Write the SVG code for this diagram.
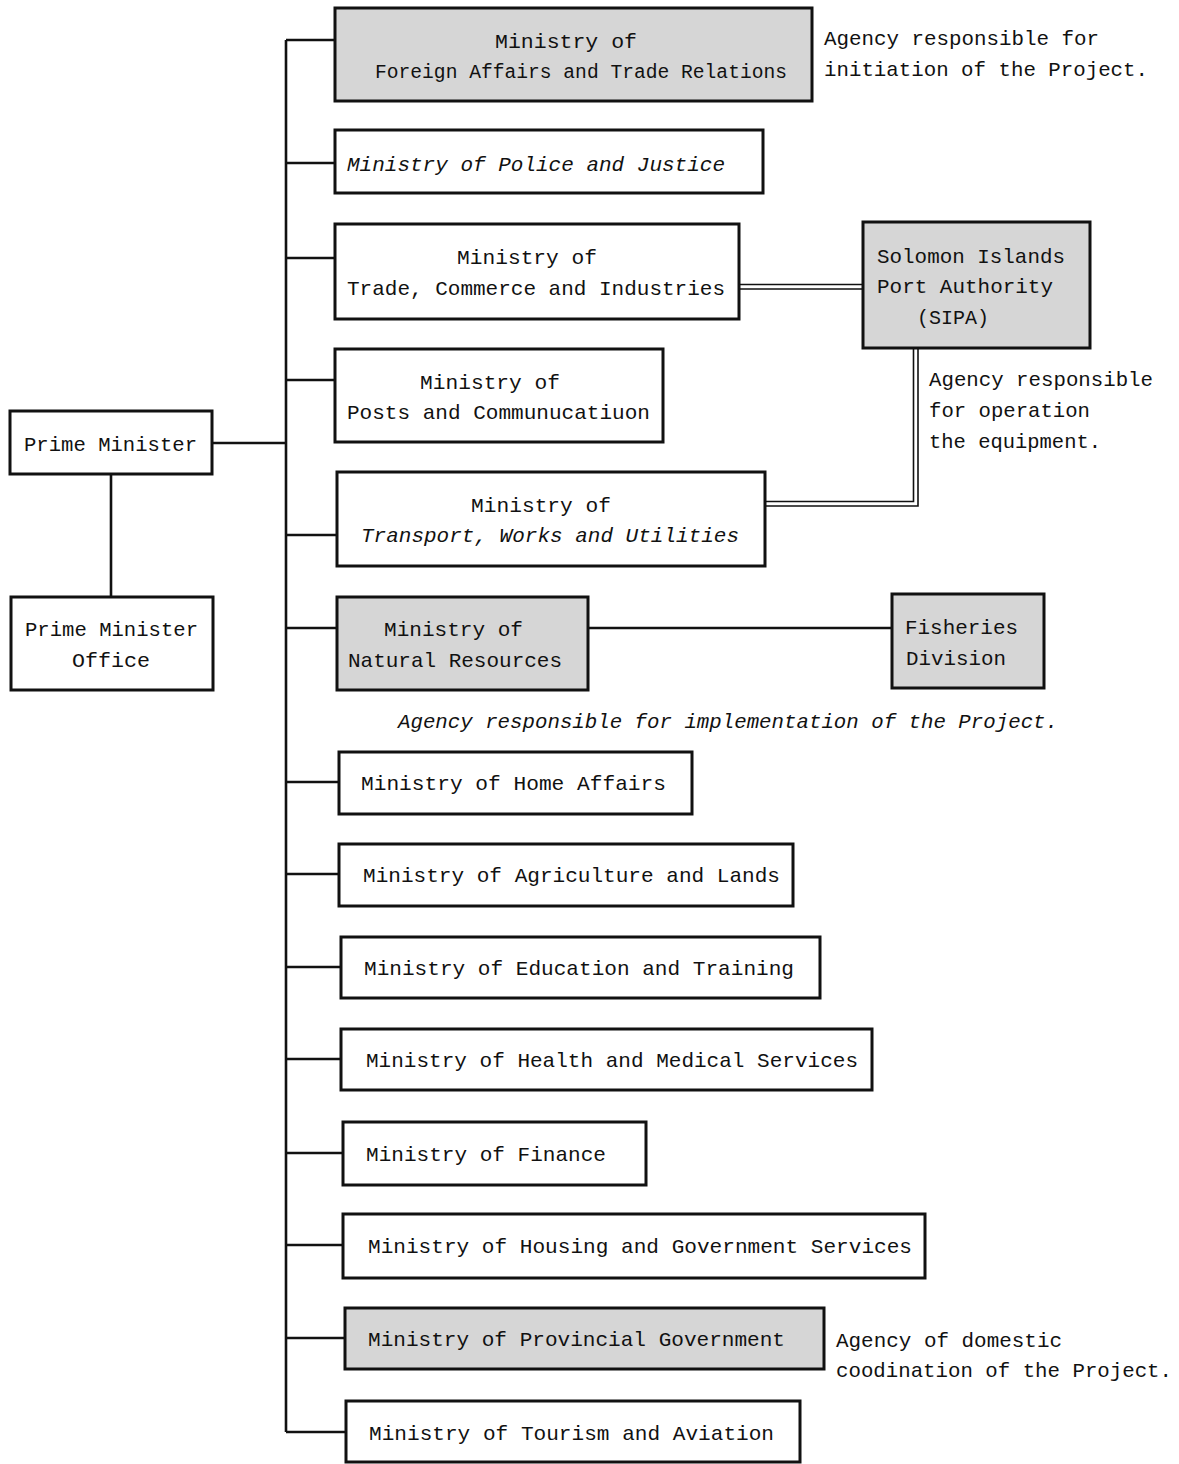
<svg xmlns="http://www.w3.org/2000/svg" width="1179" height="1464" viewBox="0 0 1179 1464">
<style>
text{font-family:"Liberation Mono","DejaVu Sans Mono",monospace;font-size:21px;fill:#111}
.i{font-style:italic}
.s{font-size:19.6px}
.box{fill:#fff;stroke:#111;stroke-width:3}
.g{fill:#d6d6d6}
.ln{fill:none;stroke:#111;stroke-width:2.6}
.dl{fill:none;stroke:#111;stroke-width:1.6}
</style>
<rect width="1179" height="1464" fill="#fff"/>
<g id="connectors">
<path class="ln" d="M286 40V1432M212 443H286M111 474V597M586 628H892"/>
<path class="ln" d="M286 40H335M286 163H335M286 258H335M286 380H335M286 535H337M286 628H337M286 782H339M286 874H339M286 967H341M286 1059H341M286 1153H343M286 1245H343M286 1338H345M286 1432H346"/>
<path class="dl" d="M739 284.5H863M739 289H863"/>
<path class="dl" d="M913.5 348V501.5H765M918 348V506H765"/>
</g>
<g id="n-foreign"><rect class="box g" x="335" y="8" width="477" height="93"/><text x="495" y="48" textLength="142" lengthAdjust="spacingAndGlyphs">Ministry of</text><text class="s" x="375" y="78" textLength="412" lengthAdjust="spacingAndGlyphs">Foreign Affairs and Trade Relations</text></g>
<g id="n-police"><rect class="box" x="335" y="130" width="428" height="63"/><text class="i" x="347" y="171" textLength="378" lengthAdjust="spacingAndGlyphs">Ministry of Police and Justice</text></g>
<g id="n-trade"><rect class="box" x="335" y="224" width="404" height="95"/><text x="457" y="264" textLength="140" lengthAdjust="spacingAndGlyphs">Ministry of</text><text x="347" y="295" textLength="378" lengthAdjust="spacingAndGlyphs">Trade, Commerce and Industries</text></g>
<g id="n-posts"><rect class="box" x="335" y="349" width="328" height="93"/><text x="420" y="389" textLength="140" lengthAdjust="spacingAndGlyphs">Ministry of</text><text x="347" y="419" textLength="303" lengthAdjust="spacingAndGlyphs">Posts and Communucatiuon</text></g>
<g id="n-transport"><rect class="box" x="337" y="472" width="428" height="94"/><text x="471" y="512" textLength="140" lengthAdjust="spacingAndGlyphs">Ministry of</text><text class="i" x="361" y="542" textLength="378" lengthAdjust="spacingAndGlyphs">Transport, Works and Utilities</text></g>
<g id="n-natural"><rect class="box g" x="337" y="597" width="251" height="93"/><text x="384" y="636" textLength="139" lengthAdjust="spacingAndGlyphs">Ministry of</text><text x="348" y="667" textLength="214" lengthAdjust="spacingAndGlyphs">Natural Resources</text></g>
<g id="n-fisheries"><rect class="box g" x="892" y="594" width="152" height="94"/><text x="905" y="634" textLength="113" lengthAdjust="spacingAndGlyphs">Fisheries</text><text x="906" y="665" textLength="100" lengthAdjust="spacingAndGlyphs">Division</text></g>
<g id="n-sipa"><rect class="box g" x="863" y="222" width="227" height="126"/><text x="877" y="263" textLength="188" lengthAdjust="spacingAndGlyphs">Solomon Islands</text><text x="877" y="293" textLength="176" lengthAdjust="spacingAndGlyphs">Port Authority</text><text x="917" y="324" textLength="72" lengthAdjust="spacingAndGlyphs">(SIPA)</text></g>
<g id="n-home"><rect class="box" x="339" y="752" width="353" height="62"/><text x="361" y="790" textLength="305" lengthAdjust="spacingAndGlyphs">Ministry of Home Affairs</text></g>
<g id="n-agri"><rect class="box" x="339" y="844" width="454" height="62"/><text x="363" y="882" textLength="417" lengthAdjust="spacingAndGlyphs">Ministry of Agriculture and Lands</text></g>
<g id="n-edu"><rect class="box" x="341" y="937" width="479" height="61"/><text x="364" y="975" textLength="430" lengthAdjust="spacingAndGlyphs">Ministry of Education and Training</text></g>
<g id="n-health"><rect class="box" x="341" y="1029" width="531" height="61"/><text x="366" y="1067" textLength="492" lengthAdjust="spacingAndGlyphs">Ministry of Health and Medical Services</text></g>
<g id="n-finance"><rect class="box" x="343" y="1122" width="303" height="63"/><text x="366" y="1161" textLength="240" lengthAdjust="spacingAndGlyphs">Ministry of Finance</text></g>
<g id="n-housing"><rect class="box" x="343" y="1214" width="582" height="64"/><text x="368" y="1253" textLength="544" lengthAdjust="spacingAndGlyphs">Ministry of Housing and Government Services</text></g>
<g id="n-provincial"><rect class="box g" x="345" y="1308" width="479" height="61"/><text x="368" y="1346" textLength="417" lengthAdjust="spacingAndGlyphs">Ministry of Provincial Government</text></g>
<g id="n-tourism"><rect class="box" x="346" y="1401" width="454" height="61"/><text x="369" y="1440" textLength="405" lengthAdjust="spacingAndGlyphs">Ministry of Tourism and Aviation</text></g>
<g id="n-pm"><rect class="box" x="10" y="411" width="202" height="63"/><text x="24" y="451" textLength="173" lengthAdjust="spacingAndGlyphs">Prime Minister</text></g>
<g id="n-pmo"><rect class="box" x="11" y="597" width="202" height="93"/><text x="25" y="636" textLength="173" lengthAdjust="spacingAndGlyphs">Prime Minister</text><text x="72" y="667" textLength="78" lengthAdjust="spacingAndGlyphs">Office</text></g>
<g id="labels">
<text x="824" y="45" textLength="275" lengthAdjust="spacingAndGlyphs">Agency responsible for</text>
<text x="824" y="76" textLength="324" lengthAdjust="spacingAndGlyphs">initiation of the Project.</text>
<text x="929" y="386" textLength="224" lengthAdjust="spacingAndGlyphs">Agency responsible</text>
<text x="929" y="417" textLength="161" lengthAdjust="spacingAndGlyphs">for operation</text>
<text x="929" y="448" textLength="172" lengthAdjust="spacingAndGlyphs">the equipment.</text>
<text class="i" x="398" y="728" textLength="660" lengthAdjust="spacingAndGlyphs">Agency responsible for implementation of the Project.</text>
<text x="836" y="1347" textLength="226" lengthAdjust="spacingAndGlyphs">Agency of domestic</text>
<text x="836" y="1377" textLength="336" lengthAdjust="spacingAndGlyphs">coodination of the Project.</text>
</g>
</svg>
